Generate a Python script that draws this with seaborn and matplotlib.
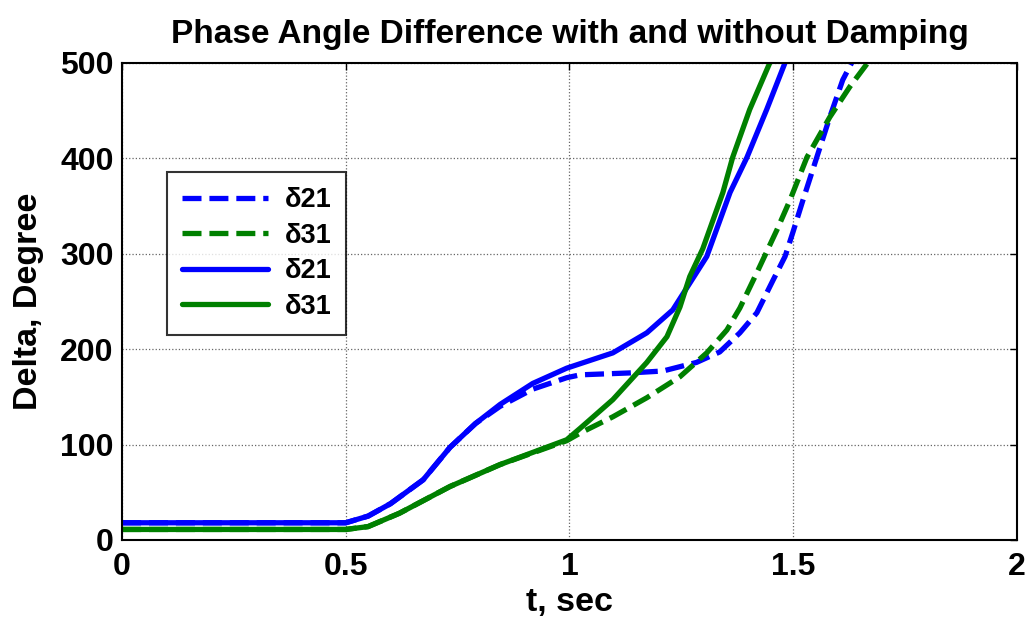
import matplotlib
matplotlib.use("Agg")
import matplotlib.pyplot as plt
import seaborn as sns
import pandas as pd

# ---- data ----
t_b_dash = [0, 0.5, 0.55, 0.6, 0.673, 0.733, 0.79, 0.845, 0.918, 0.994, 1.024, 1.135,
            1.209, 1.284, 1.336, 1.381, 1.419, 1.455, 1.482, 1.5, 1.522, 1.553, 1.582, 1.611, 1.631]
v_b_dash = [18, 18, 25, 38, 63, 97, 122, 140, 158, 170, 173, 175,
            177, 186, 197, 217, 238, 272, 297, 323, 356, 401, 443, 482, 500]

t_g_dash = [0, 0.5, 0.55, 0.62, 0.733, 0.845, 0.994, 1.024, 1.097, 1.173, 1.247, 1.307,
            1.352, 1.381, 1.419, 1.464, 1.493, 1.531, 1.582, 1.627, 1.667]
v_g_dash = [11, 11, 14, 28, 56, 79, 104, 112, 129, 149, 171, 196,
            220, 243, 280, 325, 356, 401, 443, 475, 500]

t_b_solid = [0, 0.5, 0.55, 0.6, 0.673, 0.733, 0.79, 0.845, 0.918, 0.994, 1.097, 1.173,
             1.231, 1.269, 1.307, 1.359, 1.397, 1.441, 1.482]
v_b_solid = [18, 18, 25, 38, 63, 97, 122, 142, 164, 180, 196, 217,
             241, 269, 297, 364, 401, 451, 500]

t_g_solid = [0, 0.5, 0.55, 0.62, 0.733, 0.845, 0.994, 1.024, 1.097, 1.173, 1.218, 1.247,
             1.269, 1.298, 1.343, 1.365, 1.403, 1.448]
v_g_solid = [11, 11, 14, 28, 56, 79, 105, 117, 147, 186, 213, 244,
             276, 305, 364, 401, 451, 500]

labels = ["δ21", "δ31", "δ21", "δ31"]
x_ticks = [0, 0.5, 1, 1.5, 2]
x_tick_labels = ["0", "0.5", "1", "1.5", "2"]
y_ticks = [0, 100, 200, 300, 400, 500]

sns.set_style("white")
plt.rcParams['font.family'] = ['Liberation Sans', 'DejaVu Sans']
plt.rcParams['font.weight'] = 'bold'
plt.rcParams['text.color'] = 'black'
plt.rcParams['axes.labelcolor'] = 'black'

fig = plt.figure(figsize=(10.26, 6.23), dpi=100)
ax = fig.add_axes([0.119, 0.1333, 0.872, 0.766])

blue = (0, 0, 1)
green = (0, 0.5, 0)
lw = 3.8
dash = (3.6, 1.5)

series = [
    (t_b_dash, v_b_dash, blue, True),
    (t_g_dash, v_g_dash, green, True),
    (t_b_solid, v_b_solid, blue, False),
    (t_g_solid, v_g_solid, green, False),
]
for (tt, vv, col, dashed), lab in zip(series, labels):
    df = pd.DataFrame({"t": tt, "v": vv})
    sns.lineplot(data=df, x="t", y="v", ax=ax, color=col, linewidth=lw,
                 sort=False, estimator=None, label=lab)
    line = ax.get_lines()[-1]
    if dashed:
        line.set_dashes(dash)
        line.set_dash_capstyle('butt')

ax.set_xlim(0, 2)
ax.set_ylim(0, 500)
ax.set_xticks(x_ticks)
ax.set_xticklabels(x_tick_labels)
ax.set_yticks(y_ticks)
ax.tick_params(axis='both', direction='in', top=True, right=True, length=5,
               width=1, labelsize=23, colors='black')
ax.tick_params(axis='x', pad=9)
ax.tick_params(axis='y', pad=6)
for lab_ in ax.get_xticklabels() + ax.get_yticklabels():
    lab_.set_fontweight('bold')
ax.grid(True, linestyle=':', color='#666666', linewidth=0.9)
for s in ax.spines.values():
    s.set_color('black')
    s.set_linewidth(1.5)

ax.set_xlabel("t, sec", fontsize=24.5, fontweight='bold', labelpad=3, color='black')
ax.set_ylabel("Delta, Degree", fontsize=24.5, fontweight='bold', labelpad=12, color='black')
ax.set_title("Phase Angle Difference with and without Damping", fontsize=24,
             fontweight='bold', pad=14, color='black')

leg = ax.legend(loc='upper left', bbox_to_anchor=(0.05, 0.77), fontsize=19.5,
                handlelength=3.2, frameon=True, fancybox=False, borderpad=0.55,
                labelspacing=0.35, handletextpad=0.6, borderaxespad=0)
leg.get_frame().set_edgecolor('black')
leg.get_frame().set_linewidth(1.5)
for txt in leg.get_texts():
    txt.set_fontweight('bold')
    txt.set_color('black')

fig.savefig("out.png", dpi=100)
